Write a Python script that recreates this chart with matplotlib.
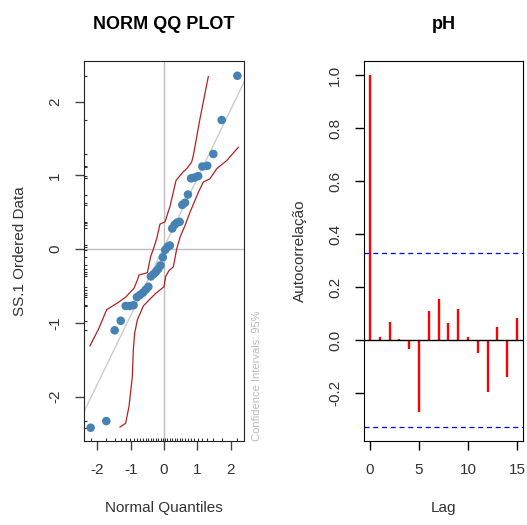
from statistics import NormalDist

import matplotlib
matplotlib.use('Agg')
import matplotlib.pyplot as plt
import numpy as np

plt.rcParams['font.family'] = ['Liberation Sans', 'DejaVu Sans']

# sorted sample (SS.1)
ss1 = [-2.42, -2.33, -1.10, -0.97, -0.77, -0.77, -0.76, -0.65, -0.62, -0.59,
       -0.55, -0.51, -0.37, -0.34, -0.31, -0.27, -0.22, -0.11, -0.01, 0.03,
       0.05, 0.28, 0.33, 0.36, 0.37, 0.60, 0.63, 0.74, 0.96, 0.97,
       0.99, 1.12, 1.13, 1.29, 1.75, 2.35]

# 95% confidence band
band_hi_x = [-2.22, -1.95, -1.72, -1.40, -1.15, -0.90, -0.80, -0.75, -0.50, -0.40,
             -0.32, -0.22, -0.12, 0.03, 0.18, 0.36, 0.58, 0.68, 0.83, 0.88, 1.08, 1.33]
band_hi_y = [-1.31, -1.07, -0.82, -0.73, -0.65, -0.53, -0.42, -0.35, -0.32, -0.10,
             0.00, 0.14, 0.34, 0.37, 0.58, 0.93, 1.05, 1.09, 1.18, 1.27, 1.77, 2.34]
band_lo_x = [-1.32, -1.15, -1.05, -0.95, -0.92, -0.88, -0.80, -0.62, -0.45, -0.25,
             0.00, 0.05, 0.15, 0.28, 0.38, 0.48, 0.63, 0.78, 1.03, 1.18, 1.38, 1.58, 1.88, 2.23]
band_lo_y = [-2.41, -2.36, -2.13, -1.73, -1.36, -1.14, -0.96, -0.77, -0.69, -0.60,
             -0.51, -0.37, -0.29, -0.24, 0.00, 0.16, 0.32, 0.50, 0.77, 0.91, 0.955, 1.09, 1.20, 1.38]

# autocorrelation of pH
lags = list(range(16))
acf_ph = [1.0, 0.01, 0.068, 0.005, -0.035, -0.27, 0.11, 0.155, 0.063, 0.118,
          0.01, -0.05, -0.197, 0.048, -0.14, 0.083]

W, H = 527, 525
fig = plt.figure(figsize=(W / 100, H / 100), dpi=100)


def px_axes(left, top, right, bottom):
    return fig.add_axes([left / W, 1 - bottom / H, (right - left) / W, (bottom - top) / H])


n = len(ss1)
qn = [NormalDist().inv_cdf((i - 0.5) / n) for i in range(1, n + 1)]

# ---- QQ plot ----
ax = px_axes(84, 61, 244, 441)
ax.set_xlim(-2.4, 2.4)
ax.set_ylim(-2.6, 2.55)
ax.axhline(0, color='#BEBEBE', lw=1, zorder=1)
ax.axvline(0, color='#BEBEBE', lw=1, zorder=1)

q1, q3 = np.percentile(ss1, [25, 75])
z1, z3 = NormalDist().inv_cdf(0.25), NormalDist().inv_cdf(0.75)
slope = (q3 - q1) / (z3 - z1)
icpt = q1 - slope * z1
xl = np.array([-2.4, 2.4])
ax.plot(xl, icpt + slope * xl, color='#CCCCCC', lw=1, zorder=2)

ax.plot(band_hi_x, band_hi_y, color='#B22222', lw=0.9, zorder=3)
ax.plot(band_lo_x, band_lo_y, color='#B22222', lw=0.9, zorder=3)
ax.scatter(qn, ss1, s=38, color='#4682B4', edgecolors='none', zorder=4)

ax.set_xticks([-2, -1, 0, 1, 2])
ax.set_yticks([-2, -1, 0, 1, 2])
ax.set_xticklabels(['-2', '-1', '0', '1', '2'])
ax.set_yticklabels(['-2', '-1', '0', '1', '2'], rotation=90, va='center')
ax.set_xticks(qn, minor=True)
ax.set_yticks(ss1, minor=True)
ax.tick_params(which='major', length=6.5, width=1, color='#444444', pad=9.4,
               labelsize=11, labelcolor='#333333')
ax.tick_params(which='minor', direction='in', length=2, width=0.8, color='#333333')
ax.set_title('NORM QQ PLOT', fontsize=13, fontweight='bold', pad=23)
ax.set_xlabel('Normal Quantiles', fontsize=11, labelpad=17, color='#333333')
ax.set_ylabel('SS.1 Ordered Data', fontsize=11, labelpad=15, color='#333333')
for s in ax.spines.values():
    s.set_color('#222222')
ax.text(1.08, 0.0, 'Confidence Intervals: 95%', transform=ax.transAxes, rotation=90,
        ha='center', va='bottom', fontsize=8, color='#BBBBBB')

# ---- ACF ----
ax2 = px_axes(364, 61, 523, 441)
ax2.set_xlim(-0.6, 15.6)
ax2.set_ylim(-0.381, 1.053)
ax2.vlines(lags, 0, acf_ph, color='#FF0000', lw=1.7)
ax2.axhline(0, color='black', lw=1)
ci = 1.96 / np.sqrt(n)
ax2.axhline(ci, color='#0000FF', lw=0.9, ls=(0, (4, 3)))
ax2.axhline(-ci, color='#0000FF', lw=0.9, ls=(0, (4, 3)))
ax2.set_xticks([0, 5, 10, 15])
ax2.set_yticks([-0.2, 0.0, 0.2, 0.4, 0.6, 0.8, 1.0])
ax2.set_yticklabels(['-0.2', '0.0', '0.2', '0.4', '0.6', '0.8', '1.0'], rotation=90, va='center')
ax2.tick_params(length=6.5, width=1, pad=9.4, labelsize=11, labelcolor='#333333')
ax2.set_title('pH', fontsize=13, fontweight='bold', pad=23)
ax2.set_xlabel('Lag', fontsize=11, labelpad=17, color='#333333')
ax2.set_ylabel('Autocorrelação', fontsize=11, labelpad=15, color='#333333')

fig.savefig('out.png', dpi=100)
